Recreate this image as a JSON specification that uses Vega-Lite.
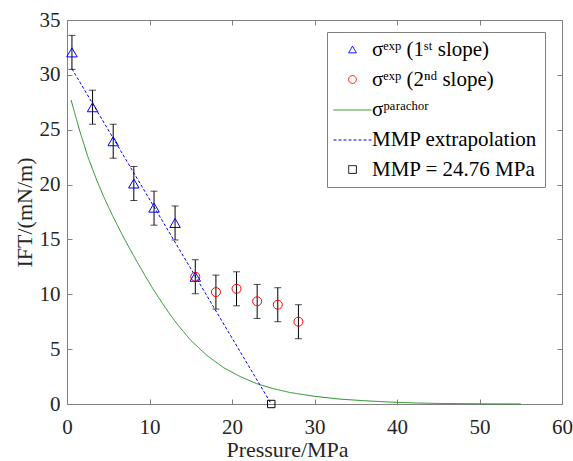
{
  "$schema": "https://vega.github.io/schema/vega-lite/v6.json",
  "width": 495,
  "height": 384,
  "autosize": "none",
  "padding": {"left": 67, "top": 20, "right": 11, "bottom": 57},
  "background": "white",
  "config": {
    "view": {"stroke": "#808080", "strokeWidth": 1},
    "font": "Liberation Serif",
    "axis": {
      "grid": false,
      "domain": false,
      "tickSize": -5,
      "tickColor": "#808080",
      "labelFont": "Liberation Serif",
      "labelFontSize": 21,
      "labelColor": "#262626",
      "labelFlush": false,
      "labelOverlap": false,
      "titleFont": "Liberation Serif",
      "titleFontSize": 22,
      "titleFontWeight": "normal",
      "titleColor": "#262626"
    },
    "axisX": {"labelPadding": 17, "titleX": 220, "titleY": 52, "titleBaseline": "alphabetic"},
    "axisY": {"labelPadding": 12, "titleX": -31, "titleY": 192, "titleBaseline": "bottom", "titleAngle": -90, "titleAlign": "center"},
    "legend": {
      "orient": "none",
      "legendX": 260,
      "legendY": 12,
      "strokeColor": "#808080",
      "fillColor": "white",
      "padding": 7,
      "labelFont": "Liberation Serif",
      "labelFontSize": 21,
      "labelColor": "#000000",
      "labelLimit": 400,
      "symbolSize": 60,
      "symbolStrokeWidth": 1,
      "symbolOffset": 8,
      "labelOffset": 9,
      "rowPadding": 8
    }
  },
  "datasets": {
    "exp1": [
      {"P": 0.6, "IFT": 32.05, "series": "σᵉˣᵖ (1ˢᵗ slope)"},
      {"P": 3.1, "IFT": 27.05, "series": "σᵉˣᵖ (1ˢᵗ slope)"},
      {"P": 5.6, "IFT": 23.95, "series": "σᵉˣᵖ (1ˢᵗ slope)"},
      {"P": 8.1, "IFT": 20.1, "series": "σᵉˣᵖ (1ˢᵗ slope)"},
      {"P": 10.55, "IFT": 17.9, "series": "σᵉˣᵖ (1ˢᵗ slope)"},
      {"P": 13.1, "IFT": 16.5, "series": "σᵉˣᵖ (1ˢᵗ slope)"},
      {"P": 15.55, "IFT": 11.6, "series": "σᵉˣᵖ (1ˢᵗ slope)"}
    ],
    "exp2": [
      {"P": 15.55, "IFT": 11.6, "series": "σᵉˣᵖ (2ⁿᵈ slope)"},
      {"P": 18.05, "IFT": 10.2, "series": "σᵉˣᵖ (2ⁿᵈ slope)"},
      {"P": 20.55, "IFT": 10.5, "series": "σᵉˣᵖ (2ⁿᵈ slope)"},
      {"P": 23.05, "IFT": 9.36, "series": "σᵉˣᵖ (2ⁿᵈ slope)"},
      {"P": 25.55, "IFT": 9.05, "series": "σᵉˣᵖ (2ⁿᵈ slope)"},
      {"P": 28.05, "IFT": 7.5, "series": "σᵉˣᵖ (2ⁿᵈ slope)"}
    ],
    "err": [
      {"P": 0.6, "lo": 30.5, "hi": 33.6},
      {"P": 3.1, "lo": 25.5, "hi": 28.6},
      {"P": 5.6, "lo": 22.4, "hi": 25.5},
      {"P": 8.1, "lo": 18.55, "hi": 21.65},
      {"P": 10.55, "lo": 16.3, "hi": 19.4},
      {"P": 13.1, "lo": 14.95, "hi": 18.05},
      {"P": 15.55, "lo": 10.05, "hi": 13.15},
      {"P": 18.05, "lo": 8.65, "hi": 11.75},
      {"P": 20.55, "lo": 8.95, "hi": 12.05},
      {"P": 23.05, "lo": 7.8, "hi": 10.9},
      {"P": 25.55, "lo": 7.5, "hi": 10.6},
      {"P": 28.05, "lo": 5.95, "hi": 9.05}
    ],
    "parachor": [
      {"P": 0.5, "IFT": 27.7, "series": "σᵖᵃʳᵃᶜʰᵒʳ"},
      {"P": 1.5, "IFT": 25.0, "series": "σᵖᵃʳᵃᶜʰᵒʳ"},
      {"P": 2.5, "IFT": 22.6, "series": "σᵖᵃʳᵃᶜʰᵒʳ"},
      {"P": 3.5, "IFT": 20.6, "series": "σᵖᵃʳᵃᶜʰᵒʳ"},
      {"P": 4.5, "IFT": 18.8, "series": "σᵖᵃʳᵃᶜʰᵒʳ"},
      {"P": 5.5, "IFT": 17.2, "series": "σᵖᵃʳᵃᶜʰᵒʳ"},
      {"P": 6.5, "IFT": 15.7, "series": "σᵖᵃʳᵃᶜʰᵒʳ"},
      {"P": 7.5, "IFT": 14.3, "series": "σᵖᵃʳᵃᶜʰᵒʳ"},
      {"P": 8.5, "IFT": 12.95, "series": "σᵖᵃʳᵃᶜʰᵒʳ"},
      {"P": 9.5, "IFT": 11.65, "series": "σᵖᵃʳᵃᶜʰᵒʳ"},
      {"P": 10.5, "IFT": 10.4, "series": "σᵖᵃʳᵃᶜʰᵒʳ"},
      {"P": 11.5, "IFT": 9.25, "series": "σᵖᵃʳᵃᶜʰᵒʳ"},
      {"P": 12.5, "IFT": 8.15, "series": "σᵖᵃʳᵃᶜʰᵒʳ"},
      {"P": 13.5, "IFT": 7.15, "series": "σᵖᵃʳᵃᶜʰᵒʳ"},
      {"P": 15, "IFT": 5.8, "series": "σᵖᵃʳᵃᶜʰᵒʳ"},
      {"P": 17, "IFT": 4.4, "series": "σᵖᵃʳᵃᶜʰᵒʳ"},
      {"P": 19, "IFT": 3.3, "series": "σᵖᵃʳᵃᶜʰᵒʳ"},
      {"P": 21, "IFT": 2.5, "series": "σᵖᵃʳᵃᶜʰᵒʳ"},
      {"P": 23, "IFT": 1.85, "series": "σᵖᵃʳᵃᶜʰᵒʳ"},
      {"P": 25, "IFT": 1.4, "series": "σᵖᵃʳᵃᶜʰᵒʳ"},
      {"P": 27, "IFT": 1.05, "series": "σᵖᵃʳᵃᶜʰᵒʳ"},
      {"P": 30, "IFT": 0.7, "series": "σᵖᵃʳᵃᶜʰᵒʳ"},
      {"P": 33, "IFT": 0.45, "series": "σᵖᵃʳᵃᶜʰᵒʳ"},
      {"P": 36, "IFT": 0.3, "series": "σᵖᵃʳᵃᶜʰᵒʳ"},
      {"P": 39, "IFT": 0.18, "series": "σᵖᵃʳᵃᶜʰᵒʳ"},
      {"P": 42, "IFT": 0.1, "series": "σᵖᵃʳᵃᶜʰᵒʳ"},
      {"P": 45, "IFT": 0.05, "series": "σᵖᵃʳᵃᶜʰᵒʳ"},
      {"P": 50, "IFT": 0.02, "series": "σᵖᵃʳᵃᶜʰᵒʳ"},
      {"P": 55, "IFT": 0.0, "series": "σᵖᵃʳᵃᶜʰᵒʳ"}
    ],
    "mmpline": [
      {"P": 0.6, "IFT": 30.55, "series": "MMP extrapolation"},
      {"P": 24.76, "IFT": 0, "series": "MMP extrapolation"}
    ],
    "mmp": [
      {"P": 24.76, "IFT": 0, "series": "MMP = 24.76 MPa"}
    ]
  },
  "layer": [
    {
      "layer": [
        {
          "data": {"name": "parachor"},
          "mark": {"type": "line", "strokeWidth": 1},
          "encoding": {
            "x": {"field": "P", "type": "quantitative", "title": "Pressure/MPa", "scale": {"domain": [0, 60], "nice": false}, "axis": {"values": [0, 10, 20, 30, 40, 50, 60]}},
            "y": {"field": "IFT", "type": "quantitative", "title": "IFT/(mN/m)", "scale": {"domain": [0, 35], "nice": false}, "axis": {"values": [0, 5, 10, 15, 20, 25, 30, 35]}},
            "color": {"field": "series", "type": "nominal",
              "legend": {"title": null, "labelFont": "Liberation Serif",
                         "encode": {"symbols": {"update": {"stroke": {"scale": "color", "field": "value"}, "strokeWidth": {"value": 1}, "strokeDash": {"value": [1, 0]}}}}},
              "scale": {"domain": ["σᵉˣᵖ (1ˢᵗ slope)", "σᵉˣᵖ (2ⁿᵈ slope)", "σᵖᵃʳᵃᶜʰᵒʳ", "MMP extrapolation", "MMP = 24.76 MPa"],
                        "range": ["#0000ff", "#ff0000", "#1f8f1f", "#0000ff", "#000000"]}},
            "strokeDash": {"field": "series", "type": "nominal", "legend": null,
              "scale": {"domain": ["σᵉˣᵖ (1ˢᵗ slope)", "σᵉˣᵖ (2ⁿᵈ slope)", "σᵖᵃʳᵃᶜʰᵒʳ", "MMP extrapolation", "MMP = 24.76 MPa"],
                        "range": [[1, 0], [1, 0], [1, 0], [3, 2], [1, 0]]}}
          }
        },
        {
          "data": {"name": "mmpline"},
          "mark": {"type": "line", "strokeWidth": 1},
          "encoding": {
            "x": {"field": "P", "type": "quantitative", "title": "Pressure/MPa"},
            "y": {"field": "IFT", "type": "quantitative", "title": "IFT/(mN/m)"},
            "color": {"field": "series", "type": "nominal", "legend": {"title": null, "labelFont": "Liberation Serif"}},
            "strokeDash": {"field": "series", "type": "nominal", "legend": null}
          }
        },
        {
          "data": {"name": "err"},
          "mark": {"type": "rule", "color": "#000000", "strokeWidth": 1},
          "encoding": {
            "x": {"field": "P", "type": "quantitative", "title": "Pressure/MPa"},
            "y": {"field": "lo", "type": "quantitative", "title": "IFT/(mN/m)"},
            "y2": {"field": "hi"}
          }
        },
        {
          "data": {"name": "err"},
          "mark": {"type": "tick", "orient": "horizontal", "size": 7, "thickness": 1, "color": "#000000"},
          "encoding": {
            "x": {"field": "P", "type": "quantitative", "title": "Pressure/MPa"},
            "y": {"field": "lo", "type": "quantitative", "title": "IFT/(mN/m)"}
          }
        },
        {
          "data": {"name": "err"},
          "mark": {"type": "tick", "orient": "horizontal", "size": 7, "thickness": 1, "color": "#000000"},
          "encoding": {
            "x": {"field": "P", "type": "quantitative", "title": "Pressure/MPa"},
            "y": {"field": "hi", "type": "quantitative", "title": "IFT/(mN/m)"}
          }
        },
        {
          "data": {"name": "exp2"},
          "mark": {"type": "point", "filled": false, "strokeWidth": 1, "size": 81, "opacity": 1},
          "encoding": {
            "x": {"field": "P", "type": "quantitative", "title": "Pressure/MPa"},
            "y": {"field": "IFT", "type": "quantitative", "title": "IFT/(mN/m)"},
            "color": {"field": "series", "type": "nominal", "legend": {"title": null, "labelFont": "Liberation Serif"}},
            "shape": {"field": "series", "type": "nominal", "legend": {"title": null, "labelFont": "Liberation Serif"},
              "scale": {"domain": ["σᵉˣᵖ (1ˢᵗ slope)", "σᵉˣᵖ (2ⁿᵈ slope)", "σᵖᵃʳᵃᶜʰᵒʳ", "MMP extrapolation", "MMP = 24.76 MPa"],
                        "range": ["triangle-up", "circle", "M-4.9,0.13H4.9",
                                  "M-4.9,0.13H-4.125M-3.608,0.13H-2.833M-2.316,0.13H-1.541M-1.024,0.13H-0.249M0.268,0.13H1.043M1.56,0.13H2.335M2.852,0.13H3.627M4.144,0.13H4.9",
                                  "square"]}}
          }
        },
        {
          "data": {"name": "exp1"},
          "mark": {"type": "point", "filled": false, "strokeWidth": 1, "size": 110, "opacity": 1},
          "encoding": {
            "x": {"field": "P", "type": "quantitative", "title": "Pressure/MPa"},
            "y": {"field": "IFT", "type": "quantitative", "title": "IFT/(mN/m)"},
            "color": {"field": "series", "type": "nominal", "legend": {"title": null, "labelFont": "Liberation Serif"}},
            "shape": {"field": "series", "type": "nominal", "legend": {"title": null, "labelFont": "Liberation Serif"}}
          }
        }
      ]
    },
    {
      "data": {"name": "mmp"},
      "mark": {"type": "point", "filled": false, "strokeWidth": 1, "size": 55, "opacity": 1},
      "encoding": {
        "x": {"field": "P", "type": "quantitative", "axis": {"orient": "top", "labels": false, "title": null, "values": [0, 10, 20, 30, 40, 50, 60]}},
        "y": {"field": "IFT", "type": "quantitative", "axis": {"orient": "right", "labels": false, "title": null, "values": [0, 5, 10, 15, 20, 25, 30, 35]}},
        "color": {"field": "series", "type": "nominal", "legend": {"title": null, "labelFont": "Liberation Serif"}},
        "shape": {"field": "series", "type": "nominal", "legend": {"title": null, "labelFont": "Liberation Serif"}}
      }
    }
  ],
  "resolve": {"axis": {"x": "independent", "y": "independent"}}
}
